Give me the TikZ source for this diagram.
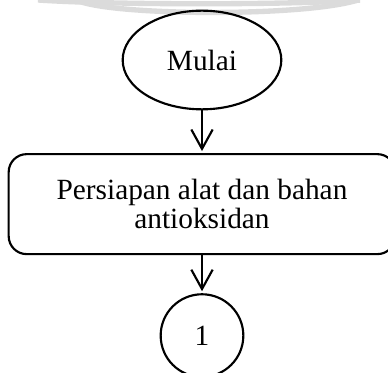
\documentclass[tikz,border=0pt]{standalone}
\usepackage{fontspec}
\setmainfont{Liberation Serif}
\usetikzlibrary{shapes.geometric,positioning,arrows.meta}
\tikzset{
->,
>={Straight Barb[length=14.5pt,width=16pt]},
shorten >=1.5pt,
node distance=30pt,
every node/.style={font=\fontsize{22pt}{21.6pt}\selectfont},
terminal/.style={draw, ellipse, minimum width=119pt, minimum height=74pt, inner sep=0pt},
proses/.style={draw, rounded corners=13.5pt, minimum width=290pt, minimum height=75pt, align=center},
penghubung/.style={draw, circle, minimum size=62pt, inner sep=0pt},
tandaair/.style={-, draw=black!14, line width=4pt},
}

\begin{document}
\begin{tikzpicture}[x=0.75pt,y=-0.75pt,line width=1.6pt]

    \useasboundingbox (0,0) rectangle (388,373);

    % watermark
    \draw[tandaair] (38,0) .. controls (110,5) and (290,5) .. (362,0);
    \draw[tandaair] (76,0) .. controls (110,16) and (300,17) .. (358,0);

    \node[terminal] (mulai) at (202,60) {Mulai};
    \node[proses,below=32pt of mulai] (persiapan) {Persiapan alat dan bahan\\antioksidan};
    \node[penghubung,below=28.5pt of persiapan] (sambung1) {1};

    \draw (mulai) -- (persiapan);
    \draw (persiapan) -- (sambung1);

\end{tikzpicture}
\end{document}
